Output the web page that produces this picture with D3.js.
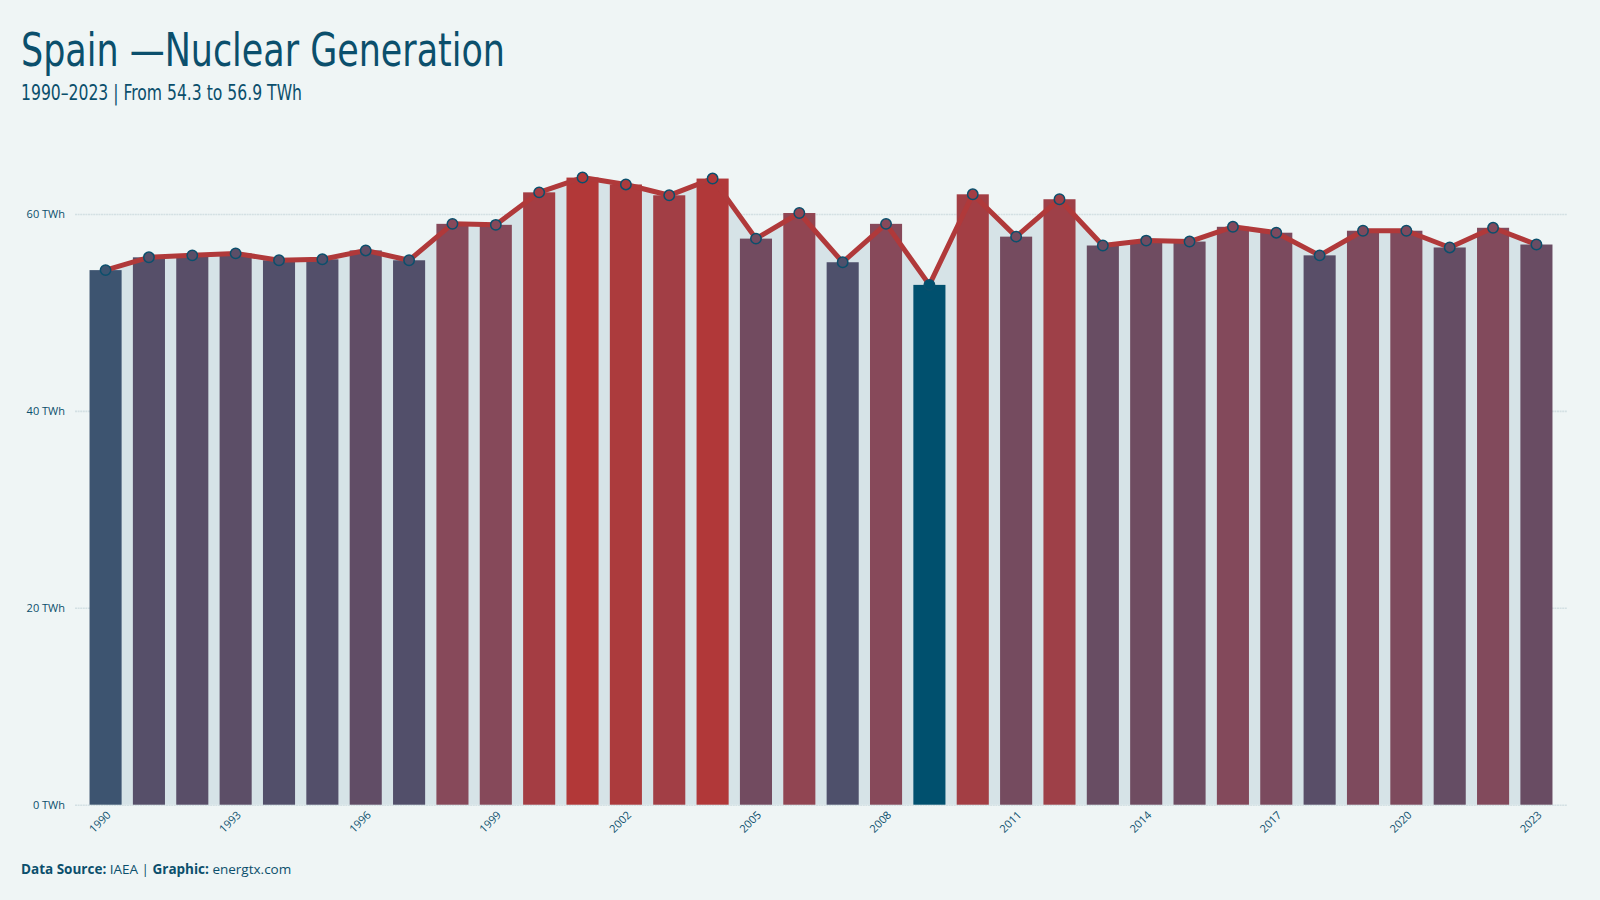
<!DOCTYPE html>
<html lang="en">
  <meta charset="utf-8" />
  <head>
    <title>Spain Nuclear Generation</title>
    <script src="https://cdn.jsdelivr.net/npm/d3@7"></script>
    <style>
      body { margin: 0; background: #eff5f5; }
      svg { display: block; }
      .title { font-family: "Liberation Sans Narrow", "DejaVu Sans Condensed", sans-serif; fill: #0b4f6c; }
      .tick text, .foot { font-family: "Open Sans", "Noto Sans", sans-serif; fill: #0b4f6c; }
    </style>
  </head>
  <body>
  <script>
    // DATA
    var years = d3.range(1990, 2024);
    var twh = [54.3, 55.6, 55.8, 56.0, 55.3, 55.4, 56.3, 55.3, 59.0, 58.9,
               62.2, 63.7, 63.0, 61.9, 63.6, 57.5, 60.1, 55.1, 59.0, 52.8,
               62.0, 57.7, 61.5, 56.8, 57.3, 57.2, 58.7, 58.1, 55.8, 58.3,
               58.3, 56.6, 58.6, 56.9];
    var yTicks = [0, 20, 40, 60];
    var xLabelYears = d3.range(1990, 2024, 3);

    // CONFIG
    var width = 1600, height = 900;
    var left = 75, right = 1567, bottom = 804.7;
    var pxPerUnit = 9.845;

    var data = years.map((y, i) => ({year: y, v: twh[i]}));

    var svg = d3.select("body").append("svg")
        .attr("width", width)
        .attr("height", height);

    svg.append("rect").attr("width", width).attr("height", height).attr("fill", "#eff5f5");

    var x = d3.scaleBand()
      .domain(years)
      .range([left, right])
      .paddingInner(0.26)
      .paddingOuter(0.335);

    var y = d3.scaleLinear()
      .domain([0, 66])
      .range([bottom, bottom - 66 * pxPerUnit]);

    var vmin = d3.min(twh), vmax = d3.max(twh);
    var color = d3.scaleLinear()
      .domain([vmin, 54.3, 55.3, 58.95, vmax])
      .range(["#00506e", "#3d5470", "#524f6a", "#87495a", "#b23838"]);

    // grid + y labels
    var yAxis = svg.append("g")
      .attr("transform", `translate(${left},0)`)
      .call(d3.axisLeft(y).tickValues(yTicks).tickSize(-(right - left)).tickFormat((d) => d + " TWh"));
    yAxis.select(".domain").remove();
    yAxis.selectAll("line")
      .attr("stroke", "#d3e0e3")
      .attr("stroke-width", 1.6)
      .attr("stroke-dasharray", "2,0.6");
    yAxis.selectAll("text")
      .attr("x", -10)
      .attr("font-size", 11);

    var cx = (d) => x(d.year) + x.bandwidth() / 2;

    // area under line
    svg.append("path")
      .datum(data)
      .attr("fill", "#d6e3e7")
      .attr("d", d3.area().x(cx).y0(y(0)).y1((d) => y(d.v)));

    // bars
    svg.selectAll(".bar")
      .data(data)
      .enter().append("rect")
        .attr("class", "bar")
        .attr("x", (d) => x(d.year))
        .attr("width", x.bandwidth())
        .attr("y", (d) => y(d.v))
        .attr("height", (d) => y(0) - y(d.v))
        .attr("fill", (d) => color(d.v));

    // line
    svg.append("path")
      .datum(data)
      .attr("fill", "none")
      .attr("stroke", "#b0393a")
      .attr("stroke-width", 5)
      .attr("stroke-linejoin", "round")
      .attr("d", d3.line().x(cx).y((d) => y(d.v)));

    // points
    svg.selectAll(".pt")
      .data(data)
      .enter().append("circle")
        .attr("class", "pt")
        .attr("cx", cx)
        .attr("cy", (d) => y(d.v))
        .attr("r", 5.2)
        .attr("fill", (d) => color(d.v))
        .attr("stroke", "#0b4f6c")
        .attr("stroke-width", 1.5);

    // x labels
    var xAxis = svg.append("g")
      .attr("transform", `translate(0,${bottom})`)
      .call(d3.axisBottom(x).tickValues(xLabelYears).tickSize(0).tickPadding(0));
    xAxis.select(".domain").remove();
    xAxis.selectAll("text")
      .attr("font-size", 11)
      .attr("text-anchor", "end")
      .attr("dy", null)
      .attr("y", 0)
      .attr("transform", "translate(6,11) rotate(-45)");

    // titles
    svg.append("text")
      .attr("class", "title")
      .attr("x", 21).attr("y", 66)
      .attr("font-size", 47)
      .attr("textLength", 484)
      .attr("lengthAdjust", "spacingAndGlyphs")
      .text("Spain \u2014Nuclear Generation");

    svg.append("text")
      .attr("class", "title")
      .attr("x", 21).attr("y", 100)
      .attr("font-size", 21)
      .attr("textLength", 281)
      .attr("lengthAdjust", "spacingAndGlyphs")
      .text(`${years[0]}\u2013${years[years.length - 1]} | From ${twh[0]} to ${twh[twh.length - 1]} TWh`);

    var foot = svg.append("text")
      .attr("class", "foot")
      .attr("x", 21).attr("y", 874)
      .attr("font-size", 13.5);
    foot.append("tspan").attr("font-weight", "bold").text("Data Source:");
    foot.append("tspan").text(" IAEA | ");
    foot.append("tspan").attr("font-weight", "bold").text("Graphic:");
    foot.append("tspan").text(" energtx.com");
  </script>
  </body>
</html>
